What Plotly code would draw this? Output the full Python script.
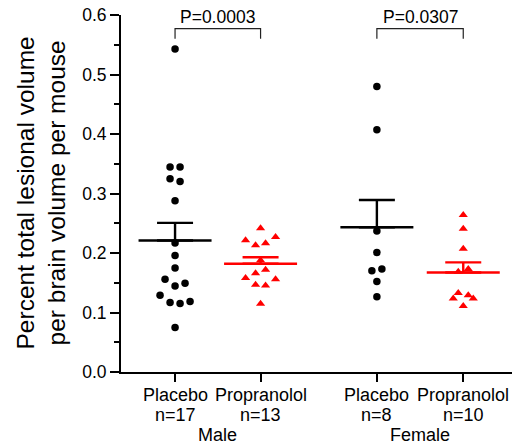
import numpy as np
import plotly.graph_objects as go

# ---------------- data ----------------
groups = ["Male Placebo", "Male Propranolol", "Female Placebo", "Female Propranolol"]
treat_labels = ["Placebo", "Propranolol", "Placebo", "Propranolol"]
n_labels = ["n=17", "n=13", "n=8", "n=10"]
sex_labels = ["Male", "Female"]
p_labels = ["P=0.0003", "P=0.0307"]

male_placebo = [0.543, 0.3445, 0.3445, 0.325, 0.320, 0.288, 0.217, 0.196, 0.175,
                0.156, 0.149, 0.1445, 0.129, 0.117, 0.115, 0.1185, 0.075]
male_propranolol = [0.2417, 0.227, 0.2215, 0.2164, 0.213, 0.1877, 0.172, 0.1658,
                    0.158, 0.156, 0.1467, 0.1455, 0.1147]
female_placebo = [0.480, 0.407, 0.237, 0.2007, 0.170, 0.173, 0.152, 0.1265]
female_propranolol = [0.264, 0.2406, 0.207, 0.173, 0.1686, 0.1327, 0.129,
                      0.1236, 0.1236, 0.1108]

# horizontal scatter offsets of the points (pixels) -- layout, not data
jit_male_placebo = [0, -5, 5, -5, 5, 0, 0, 0, 0, -10, 10, 0, -15, -5, 5, 15, 0]
jit_male_propranolol = [0, 15, -15, 5, -5, 0, 5, -5, -15, 15, -5, 5, 0]
jit_female_placebo = [0, 0, 0, 0, -5, 5, 0, 0]
jit_female_propranolol = [0, 0, 0, 5, -5, -5, 5, -10, 10, 0]

# ---------------- layout constants ----------------
W, H = 512, 446
ML, MR, MT, MB = 121, 0, 15, 74
pos = [1.0, 2.0, 3.36, 4.37]
xr = [0.368, 4.94]
px_per_unit = (W - ML - MR) / (xr[1] - xr[0])

values = [male_placebo, male_propranolol, female_placebo, female_propranolol]
jitters = [jit_male_placebo, jit_male_propranolol, jit_female_placebo, jit_female_propranolol]
colors = ["#000000", "#ff0000", "#000000", "#ff0000"]
symbols = ["circle", "triangle-up", "circle", "triangle-up"]
msizes = [7.5, 8, 7.5, 8]

fig = go.Figure()

for i, (vals, jit) in enumerate(zip(values, jitters)):
    v = np.array(vals)
    xs = pos[i] + np.array(jit) / px_per_unit
    fig.add_trace(go.Scatter(
        x=xs, y=v, mode="markers",
        marker=dict(symbol=symbols[i], size=msizes[i], color=colors[i], line=dict(width=0)),
        showlegend=False, hoverinfo="y"))
    mean = v.mean()
    sem = v.std(ddof=1) / np.sqrt(len(v))
    half = 36.5 / px_per_unit
    # mean line
    fig.add_trace(go.Scatter(
        x=[pos[i] - half, pos[i] + half], y=[mean, mean], mode="lines",
        line=dict(color=colors[i], width=2.6), showlegend=False, hoverinfo="skip"))
    # upper SEM bar
    fig.add_trace(go.Scatter(
        x=[pos[i]], y=[mean], mode="markers",
        marker=dict(size=1, color="rgba(0,0,0,0)"),
        error_y=dict(type="data", symmetric=False, array=[sem], arrayminus=[0],
                     color=colors[i], thickness=2.4, width=18),
        showlegend=False, hoverinfo="skip"))
    # category labels (two rows)
    fig.add_annotation(x=pos[i], y=0, xref="x", yref="paper", text=treat_labels[i],
                       showarrow=False, yanchor="middle", yshift=-23,
                       font=dict(size=18, color="black"))
    fig.add_annotation(x=pos[i], y=0, xref="x", yref="paper", text=n_labels[i],
                       showarrow=False, yanchor="middle", yshift=-43,
                       font=dict(size=18, color="black"))

# significance brackets
br_top, br_bot = 0.577, 0.560
for k, (a, b) in enumerate([(0, 1), (2, 3)]):
    fig.add_trace(go.Scatter(
        x=[pos[a], pos[a], pos[b], pos[b]], y=[br_bot, br_top, br_top, br_bot],
        mode="lines", line=dict(color="#222222", width=1.2),
        showlegend=False, hoverinfo="skip", cliponaxis=False))
    fig.add_annotation(x=(pos[a] + pos[b]) / 2, y=br_top, xref="x", yref="y",
                       text=p_labels[k], showarrow=False, yanchor="bottom", yshift=0,
                       font=dict(size=17.5, color="black"))
    fig.add_annotation(x=(pos[a] + pos[b]) / 2, y=0, xref="x", yref="paper",
                       text=sex_labels[k], showarrow=False, yanchor="middle", yshift=-63,
                       font=dict(size=18, color="black"))

# y-axis title
fig.add_annotation(x=0, y=0.5, xref="paper", yref="paper", xanchor="center", yanchor="middle",
                   xshift=-80, textangle=-90, showarrow=False,
                   text="Percent total lesional volume<br>per brain volume per mouse",
                   font=dict(size=24.5, color="black"))

fig.update_layout(
    width=W, height=H, margin=dict(l=ML, r=MR, t=MT, b=MB, autoexpand=False),
    paper_bgcolor="white", plot_bgcolor="white",
    font=dict(family="Liberation Sans, Arial, sans-serif", color="black"),
    xaxis=dict(range=xr, tickvals=pos, showticklabels=False, showline=True, linewidth=2,
               linecolor="black", ticks="outside", ticklen=8, tickwidth=2, tickcolor="black",
               showgrid=False, zeroline=False, automargin=False),
    yaxis=dict(range=[0, 0.6], dtick=0.1, tick0=0, tickformat=".1f", showline=True,
               linewidth=2, linecolor="black", ticks="outside", ticklen=9, tickwidth=2,
               tickcolor="black", showgrid=False, zeroline=False, tickfont=dict(size=17.5),
               automargin=False,
               minor=dict(dtick=0.05, ticks="outside", ticklen=5, tickwidth=2,
                          tickcolor="black", showgrid=False)),
)

fig.write_html("out.html", config={"displayModeBar": False},
               post_script="document.body.style.margin='0';document.body.style.overflow='hidden';")
